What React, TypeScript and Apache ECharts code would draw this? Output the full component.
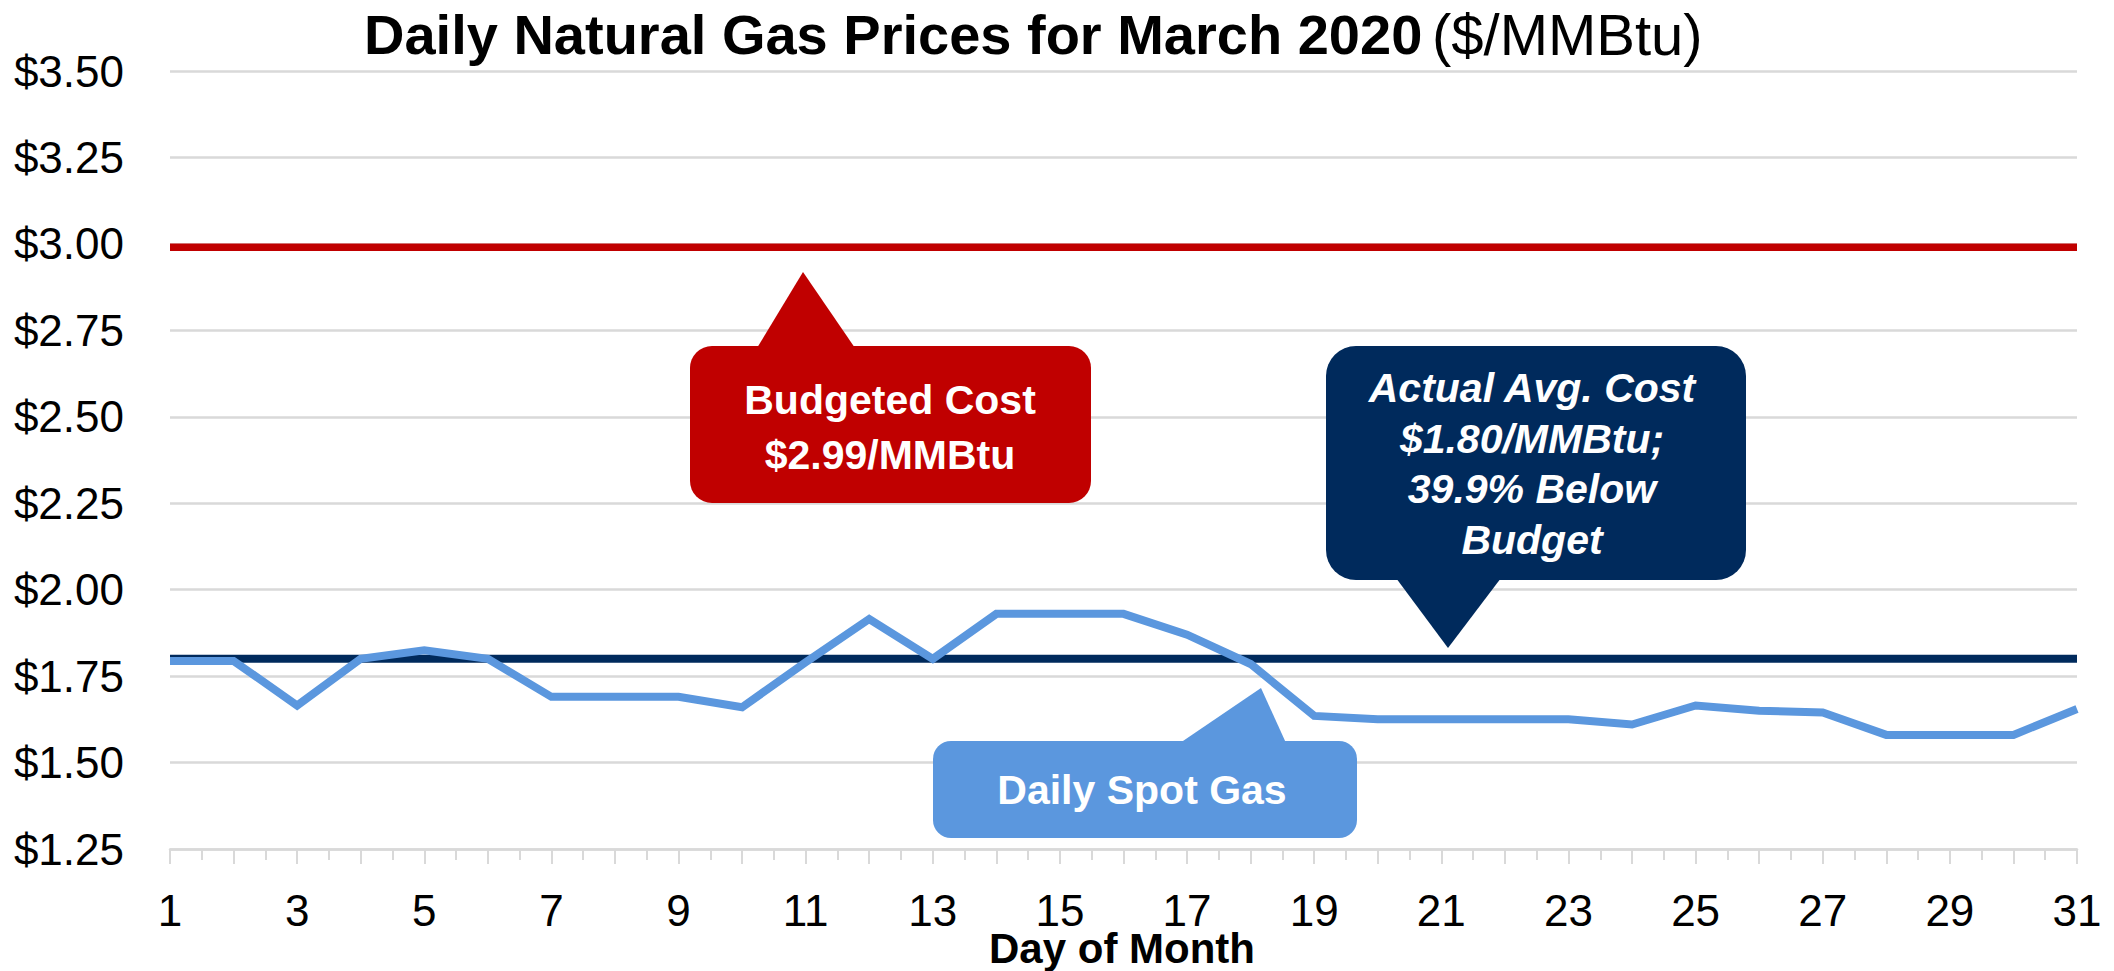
import React, { useEffect, useRef } from "react";
import * as echarts from "echarts";

const days: number[] = [1, 2, 3, 4, 5, 6, 7, 8, 9, 10, 11, 12, 13, 14, 15, 16, 17, 18, 19, 20, 21, 22, 23, 24, 25, 26, 27, 28, 29, 30, 31];
const spotPrices: number[] = [1.794, 1.794, 1.665, 1.8, 1.825, 1.8, 1.69, 1.69, 1.69, 1.66, 1.79, 1.915, 1.8, 1.93, 1.93, 1.93, 1.87, 1.785, 1.635, 1.625, 1.625, 1.625, 1.625, 1.61, 1.665, 1.65, 1.645, 1.58, 1.58, 1.58, 1.655];
const budgetCost = 2.99;
const actualAvgCost = 1.8;
const yTicks: number[] = [1.25, 1.5, 1.75, 2.0, 2.25, 2.5, 2.75, 3.0, 3.25, 3.5];

const titleBold = "Daily Natural Gas Prices for March 2020";
const titleUnit = "($/MMBtu)";
const xAxisTitle = "Day of Month";
const budgetLabel = "Budgeted Cost\n$2.99/MMBtu";
const actualLabel = "Actual Avg. Cost\n$1.80/MMBtu;\n39.9% Below\nBudget";
const spotLabel = "Daily Spot Gas";

const FONT = "'Liberation Sans', Arial, sans-serif";
const RED = "#C00000";
const NAVY = "#002A5C";
const BLUE = "#5B97DE";
const GRID = "#D9D9D9";

export default function App() {
  const ref = useRef<HTMLDivElement>(null);
  useEffect(() => {
    if (!ref.current) return;
    const chart = echarts.init(ref.current, undefined, { renderer: "svg" });
    const first = days[0];
    const last = days[days.length - 1];
    chart.setOption({
      animation: false,
      backgroundColor: "#ffffff",
      grid: { left: 170, right: 37, top: 71, bottom: 122, containLabel: false, outerBoundsMode: "none" },
      xAxis: {
        type: "value",
        min: first,
        max: last,
        interval: 1,
        axisLine: { show: true, lineStyle: { color: GRID, width: 2.5 } },
        axisTick: { show: true, length: 15, lineStyle: { color: GRID, width: 2 } },
        minorTick: { show: true, splitNumber: 2, length: 11, lineStyle: { color: GRID, width: 2 } },
        splitLine: { show: false },
        axisLabel: {
          margin: 46,
          fontFamily: FONT,
          fontSize: 44,
          color: "#000",
          lineHeight: 30,
          formatter: (v: number) => (v % 2 === 1 ? String(v) : ""),
        },
      },
      yAxis: {
        type: "value",
        min: yTicks[0],
        max: yTicks[yTicks.length - 1],
        interval: 0.25,
        axisLine: { show: false },
        axisTick: { show: false },
        splitLine: { show: true, lineStyle: { color: GRID, width: 2.5 } },
        axisLabel: {
          margin: 46,
          fontFamily: FONT,
          fontSize: 44,
          color: "#000",
          formatter: (v: number) => "$" + v.toFixed(2),
        },
      },
      series: [
        {
          type: "line",
          name: "Budgeted Cost",
          data: [[first, budgetCost], [last, budgetCost]],
          symbol: "none",
          lineStyle: { color: RED, width: 7.5 },
          z: 2,
        },
        {
          type: "line",
          name: "Actual Avg. Cost",
          data: [[first, actualAvgCost], [last, actualAvgCost]],
          symbol: "none",
          lineStyle: { color: NAVY, width: 8 },
          z: 3,
        },
        {
          type: "line",
          name: "Daily Spot Gas",
          data: days.map((d, i) => [d, spotPrices[i]]),
          symbol: "none",
          lineStyle: { color: BLUE, width: 8, join: "miter" },
          z: 4,
        },
      ],
      graphic: [
        {
          type: "text",
          left: 364,
          top: 6,
          style: { text: titleBold, fontFamily: FONT, fontSize: 56, fontWeight: "bold", fill: "#000" },
        },
        {
          type: "text",
          left: 1432,
          top: 5,
          style: { text: titleUnit, fontFamily: FONT, fontSize: 58, fontWeight: "normal", fill: "#000" },
        },
        {
          type: "text",
          x: 1122,
          y: 948,
          style: {
            text: xAxisTitle,
            fontFamily: FONT,
            fontSize: 42,
            fontWeight: "bold",
            fill: "#000",
            align: "center",
            verticalAlign: "middle",
            lineHeight: 28,
          },
        },
        // Budget callout
        { type: "polygon", shape: { points: [[757, 348], [855, 348], [803, 272]] }, style: { fill: RED }, z: 10 },
        { type: "rect", shape: { x: 690, y: 346, width: 401, height: 157, r: 22 }, style: { fill: RED }, z: 10 },
        {
          type: "text",
          x: 890,
          y: 427,
          z: 11,
          style: {
            text: budgetLabel,
            fontFamily: FONT,
            fontSize: 41,
            fontWeight: "bold",
            fill: "#fff",
            align: "center",
            verticalAlign: "middle",
            lineHeight: 55,
          },
        },
        // Actual avg callout
        { type: "polygon", shape: { points: [[1396, 578], [1501, 578], [1448, 648]] }, style: { fill: NAVY }, z: 10 },
        { type: "rect", shape: { x: 1326, y: 346, width: 420, height: 234, r: 30 }, style: { fill: NAVY }, z: 10 },
        {
          type: "text",
          x: 1532,
          y: 464,
          z: 11,
          style: {
            text: actualLabel,
            fontFamily: FONT,
            fontSize: 41,
            fontWeight: "bold",
            fontStyle: "italic",
            fill: "#fff",
            align: "center",
            verticalAlign: "middle",
            lineHeight: 50.5,
          },
        },
        // Spot callout
        { type: "polygon", shape: { points: [[1180, 743], [1286, 743], [1261, 688]] }, style: { fill: BLUE }, z: 10 },
        { type: "rect", shape: { x: 933, y: 741, width: 424, height: 97, r: 18 }, style: { fill: BLUE }, z: 10 },
        {
          type: "text",
          x: 1142,
          y: 790,
          z: 11,
          style: {
            text: spotLabel,
            fontFamily: FONT,
            fontSize: 41,
            fontWeight: "bold",
            fill: "#fff",
            align: "center",
            verticalAlign: "middle",
          },
        },
      ],
    });
    return () => chart.dispose();
  }, []);
  return (
    <div
      ref={ref}
      style={{ position: "fixed", left: 0, top: 0, width: 2114, height: 971, background: "#fff" }}
    />
  );
}
